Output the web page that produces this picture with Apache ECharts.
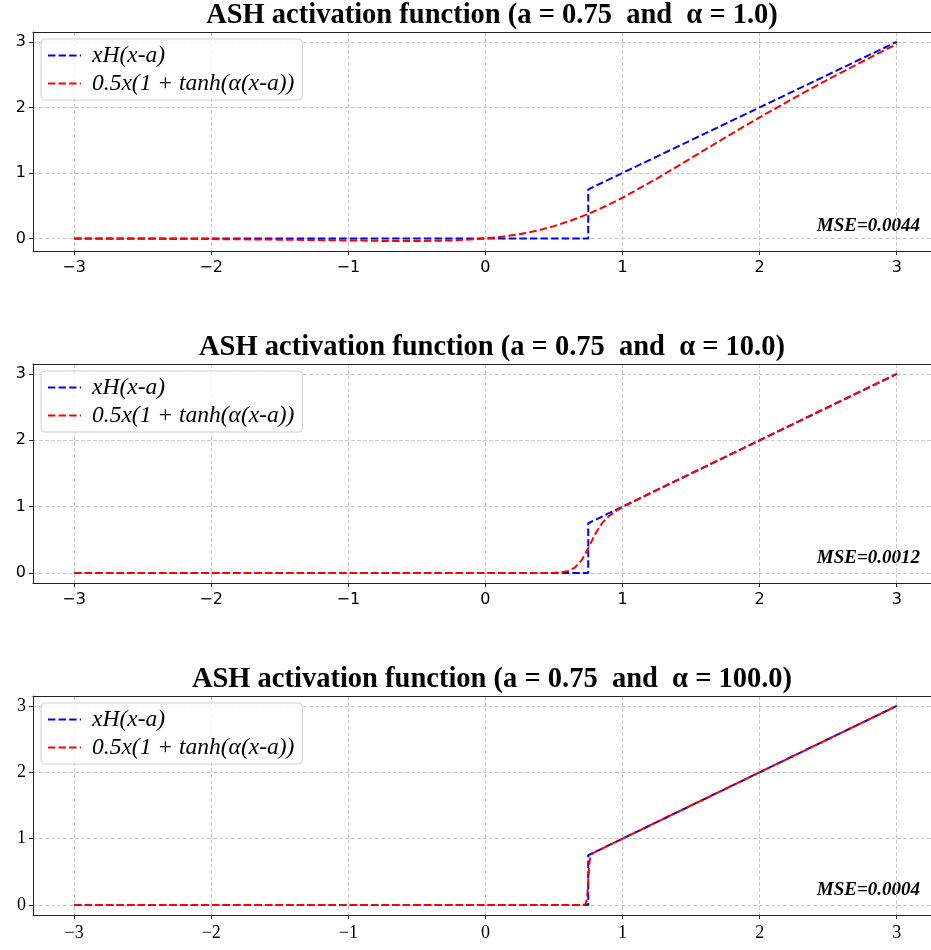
<!DOCTYPE html>
<html>
<head>
<meta charset="utf-8">
<script src="https://cdn.jsdelivr.net/npm/echarts@6/dist/echarts.min.js"></script>
<style>
  html, body { margin: 0; padding: 0; background: #fff; }
  #chart { width: 931px; height: 950px; }
</style>
</head>
<body>
<div id="chart"></div>
<script>
// values
const titles = [
  'ASH activation function (a = 0.75  and  α = 1.0)',
  'ASH activation function (a = 0.75  and  α = 10.0)',
  'ASH activation function (a = 0.75  and  α = 100.0)'
]
const mseLabels = ['MSE=0.0044', 'MSE=0.0012', 'MSE=0.0004']
const legendNames = ['xH(x-a)', '0.5x(1 + tanh(α(x-a))']
const xTicks = [-3, -2, -1, 0, 1, 2, 3]
const yTicks = [0, 1, 2, 3]
const yMins = [-0.19, -0.15, -0.15]

// step curve, same in all three panels
const stepX = [-3, 0.75, 0.75, 3]
const stepY = [0, 0, 0.75, 3]

// smooth curve, alpha = 1
const tanh1X = [-3, -2.5, -2, -1.5, -1, -0.75, -0.5, -0.25, 0, 0.125, 0.25, 0.375, 0.5, 0.625, 0.75, 0.875, 1, 1.25, 1.5, 1.75, 2, 2.25, 2.5, 2.75, 3]
const tanh1Y = [-0.002, -0.004, -0.008, -0.017, -0.029, -0.036, -0.038, -0.03, 0, 0.029, 0.067, 0.12, 0.189, 0.275, 0.375, 0.492, 0.622, 0.914, 1.226, 1.541, 1.848, 2.143, 2.427, 2.7, 2.967]

// alpha = 10
const tanh10X = [-3, 0, 0.4, 0.5, 0.55, 0.6, 0.65, 0.7, 0.725, 0.75, 0.775, 0.8, 0.85, 0.9, 0.95, 1, 1.1, 1.25, 3]
const tanh10Y = [0, 0, 0, 0.003, 0.01, 0.029, 0.078, 0.188, 0.273, 0.375, 0.481, 0.585, 0.749, 0.857, 0.933, 0.993, 1.099, 1.25, 3]

// alpha = 100
const tanh100X = [-3, 0.7, 0.73, 0.74, 0.745, 0.75, 0.755, 0.76, 0.77, 0.78, 0.8, 3]
const tanh100Y = [0, 0, 0.013, 0.088, 0.2, 0.375, 0.552, 0.669, 0.756, 0.778, 0.8, 3]

const redX = [tanh1X, tanh10X, tanh100X]
const redY = [tanh1Y, tanh10Y, tanh100Y]

const zip = (xs, ys) => xs.map((x, i) => [x, ys[i]])

// the right side of the figure is cut off in the reference, so the
// x range stops short of the usual +3.3 margin
const xMin = -3.3
const xMax = 3.25
const panelTop = [32, 364, 696]
const gridLeft = 33
const gridWidth = 898
const gridHeight = 219
const dash = [7.4, 3.2]
const spine = { show: true, onZero: false, lineStyle: { color: '#222', width: 1 } }
const gridLine = { show: true, lineStyle: { color: '#c8c8c8', type: [4, 2], width: 1 } }

const option = {
  animation: false,
  title: [],
  legend: [],
  grid: [],
  xAxis: [],
  yAxis: [],
  series: [],
  graphic: []
}

for (let i = 0; i < 3; i++) {
  const top = panelTop[i]
  // last panel uses serif tick labels in the reference
  const tickFont = i === 2
    ? { fontFamily: 'Liberation Serif', fontSize: 18 }
    : { fontFamily: 'DejaVu Sans', fontSize: 16 }

  option.title.push({
    text: titles[i],
    left: 492,
    top: top - 31,
    textAlign: 'center',
    padding: 0,
    textStyle: { fontFamily: 'Liberation Serif', fontWeight: 'bold', fontSize: 28.5, color: '#000' }
  })

  option.grid.push({ left: gridLeft, top: top, width: gridWidth, height: gridHeight, show: false })

  option.xAxis.push({
    type: 'value', gridIndex: i, min: xMin, max: xMax,
    axisLine: spine,
    axisTick: { show: true, length: 4, customValues: xTicks, lineStyle: { color: '#222' } },
    axisLabel: {
      customValues: xTicks, margin: 9, color: '#000', ...tickFont,
      formatter: v => (v < 0 ? '\u2212' + Math.abs(v) : String(v))
    },
    splitLine: gridLine
  })
  // top spine
  option.xAxis.push({
    type: 'value', gridIndex: i, position: 'top', min: xMin, max: xMax,
    axisLine: spine, axisTick: { show: false }, axisLabel: { show: false }, splitLine: { show: false }
  })

  option.yAxis.push({
    type: 'value', gridIndex: i, min: yMins[i], max: 3.15,
    axisLine: spine,
    axisTick: { show: true, length: 4, customValues: yTicks, lineStyle: { color: '#222' } },
    axisLabel: { customValues: yTicks, margin: 7, color: '#000', ...tickFont },
    splitLine: gridLine
  })

  option.series.push({
    name: legendNames[0], type: 'line', xAxisIndex: 2 * i, yAxisIndex: i,
    data: zip(stepX, stepY), symbol: 'none', showSymbol: false,
    lineStyle: { color: '#0000ff', width: 2, type: dash }, itemStyle: { color: '#0000ff' }
  })
  option.series.push({
    name: legendNames[1], type: 'line', xAxisIndex: 2 * i, yAxisIndex: i,
    data: zip(redX[i], redY[i]), symbol: 'none', showSymbol: false, smooth: false,
    lineStyle: { color: '#ff0000', width: 2, type: dash }, itemStyle: { color: '#ff0000' }
  })

  option.legend.push({
    data: legendNames, orient: 'vertical', left: 41, top: top + 7,
    itemWidth: 33, itemHeight: 14, itemGap: 5,
    padding: [5, 8, 5, 6],
    backgroundColor: 'rgba(255,255,255,0.8)', borderColor: '#d0d0d0', borderWidth: 1, borderRadius: 4,
    selectedMode: false,
    itemStyle: { opacity: 0 },
    lineStyle: { width: 2, type: dash },
    textStyle: { fontFamily: 'Liberation Serif', fontStyle: 'italic', fontSize: 23.5, color: '#000', padding: [0, 0, 0, 6] }
  })

  option.graphic.push({
    type: 'text', x: 920, y: top + 194,
    style: {
      text: mseLabels[i], textAlign: 'right', textVerticalAlign: 'middle',
      font: 'italic bold 19px "Liberation Serif"', fill: '#000'
    }
  })
}

const chart = echarts.init(document.getElementById('chart'), null, { renderer: 'canvas' })
chart.setOption(option)
</script>
</body>
</html>
